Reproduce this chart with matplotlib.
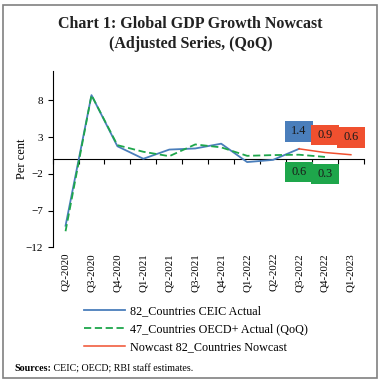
import matplotlib
matplotlib.use("Agg")
import matplotlib.pyplot as plt
import numpy as np
from matplotlib.patches import Rectangle
from matplotlib.path import Path

plt.rcParams['font.family'] = ['Liberation Serif', 'DejaVu Serif']

quarters = ["Q2-2020", "Q3-2020", "Q4-2020", "Q1-2021", "Q2-2021", "Q3-2021",
            "Q4-2021", "Q1-2022", "Q2-2022", "Q3-2022", "Q4-2022", "Q1-2023"]
ceic_actual = [-9.05, 8.7, 1.75, 0.05, 1.3, 1.45, 2.1, -0.4, -0.1, 1.4]
oecd_actual = [-9.8, 8.7, 1.9, 1.0, 0.4, 2.0, 1.6, 0.45, 0.55, 0.6, 0.3]
nowcast = [1.4, 0.9, 0.6]
nowcast_start = 9

blue = '#4a7ebb'
green = '#1ea64b'
red = '#f0502f'


def label_box(x0, y0, width, height, mutation_size):
    # wider than tall padding so neighbouring boxes touch
    padx = 0.55 * mutation_size
    pady = 0.34 * mutation_size
    verts = [(x0 - padx, y0 - pady), (x0 + width + padx, y0 - pady),
             (x0 + width + padx, y0 + height + pady),
             (x0 - padx, y0 + height + pady), (x0 - padx, y0 - pady)]
    return Path(verts, closed=True)


fig = plt.figure(figsize=(3.81, 3.83), dpi=100)
ax = fig.add_axes([0.138, 0.354, 0.817, 0.461])

x = np.arange(len(quarters))
ax.plot(x[:len(ceic_actual)], ceic_actual, color=blue, lw=1.3,
        label='82_Countries CEIC Actual')
ax.plot(x[:len(oecd_actual)], oecd_actual, color=green, lw=1.3,
        ls=(0, (4, 2)), label='47_Countries OECD+ Actual (QoQ)')
ax.plot(x[nowcast_start:nowcast_start + len(nowcast)], nowcast, color=red,
        lw=1.1, label='Nowcast 82_Countries Nowcast')

# value boxes for the latest quarters
box_kw = dict(ha='center', va='center', fontsize=8.8, color='#1a1a1a',
              textcoords='offset points')
ax.annotate(f"{ceic_actual[-1]:.1f}", xy=(nowcast_start, ceic_actual[-1]),
            xytext=(0, 12.5),
            bbox=dict(boxstyle=label_box, fc=blue, ec='none'), **box_kw)
for i, v in enumerate(nowcast[1:], start=1):
    ax.annotate(f"{v:.1f}", xy=(nowcast_start + i, v), xytext=(0, 12.5),
                bbox=dict(boxstyle=label_box, fc=red, ec='none'), **box_kw)
for i, v in enumerate(oecd_actual[nowcast_start:]):
    ax.annotate(f"{v:.1f}", xy=(nowcast_start + i, v), xytext=(0, -12.5),
                bbox=dict(boxstyle=label_box, fc=green, ec='none'), **box_kw)

ax.set_xlim(-0.5, len(quarters) - 0.5)
ax.set_ylim(-12, 12)
ax.set_yticks([-12, -7, -2, 3, 8])
ax.set_xticks(x)
ax.set_xticklabels(quarters, rotation=90, fontsize=7.8)
ax.tick_params(axis='x', length=0, pad=4)
ax.tick_params(axis='y', labelsize=8, length=3.5, width=0.8)
ax.set_ylabel("Per cent", fontsize=9, labelpad=-2)

for side in ['top', 'right', 'bottom']:
    ax.spines[side].set_visible(False)
ax.spines['left'].set_linewidth(0.8)

# zero line carrying the category boundary ticks
zero_ax = ax.secondary_xaxis(0, transform=ax.transData)
zero_ax.set_xticks(np.arange(-0.5, len(quarters), 1.0))
zero_ax.set_xticklabels([])
zero_ax.tick_params(length=3.5, width=0.8)
zero_ax.spines['bottom'].set_linewidth(0.8)

fig.text(0.5, 0.937, "Chart 1: Global GDP Growth Nowcast", ha='center',
         va='center', fontsize=11.5, fontweight='bold', color='#222222')
fig.text(0.5, 0.886, "(Adjusted Series, (QoQ)", ha='center',
         va='center', fontsize=11.5, fontweight='bold', color='#222222')

fig.legend(loc='upper left', bbox_to_anchor=(0.221, 0.203), frameon=False,
           fontsize=8.7, handlelength=3.4, handletextpad=0.4, labelspacing=0.5,
           borderpad=0, borderaxespad=0)

src = fig.text(0.038, 0.038, "Sources:", fontsize=7.2, fontweight='bold',
               va='center', ha='left')
ax.annotate(" CEIC; OECD; RBI staff estimates.", xy=(1, 0.5), xycoords=src,
            va='center', ha='left', fontsize=7.2, annotation_clip=False)

fig.add_artist(Rectangle((0.009, 0.013), 0.981, 0.975, transform=fig.transFigure,
                         fill=False, ec='#808080', lw=1.2))

fig.savefig("out.png", dpi=100, facecolor='white')
